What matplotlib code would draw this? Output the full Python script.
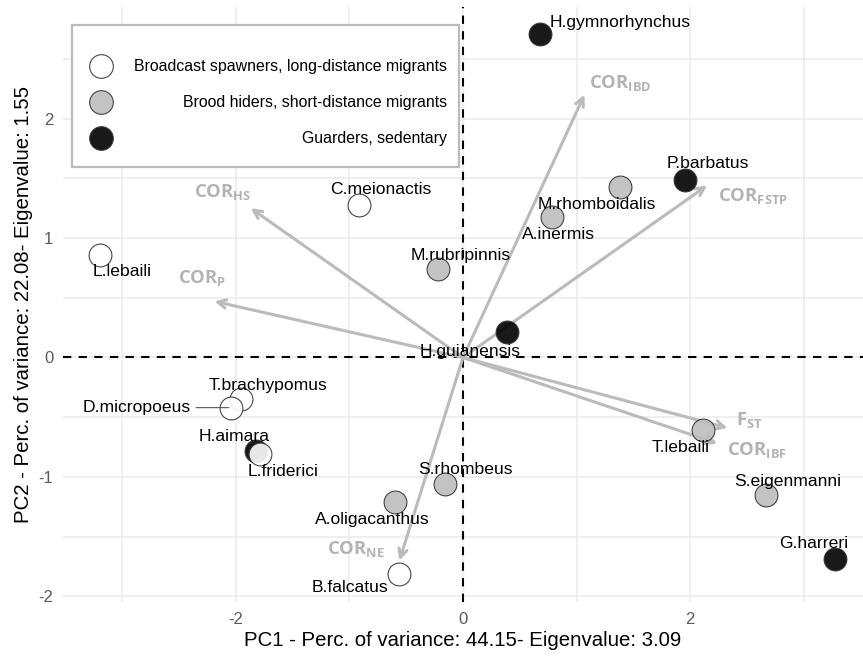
import matplotlib
matplotlib.use("Agg")
import matplotlib.pyplot as plt
from matplotlib.patches import Rectangle

# ---------------- data ----------------
species = ["H.gymnorhynchus", "C.meionactis", "L.lebaili", "M.rubripinnis",
           "M.rhomboidalis", "A.inermis", "P.barbatus", "H.guianensis",
           "T.brachypomus", "D.micropoeus", "H.aimara", "L.friderici",
           "S.rhombeus", "A.oligacanthus", "B.falcatus", "T.lebaili",
           "S.eigenmanni", "G.harreri"]
pc1 = [0.68, -0.92, -3.20, -0.22, 1.38, 0.78, 1.96, 0.39,
       -1.96, -2.04, -1.82, -1.79, -0.16, -0.60, -0.56, 2.11, 2.67, 3.28]
pc2 = [2.71, 1.28, 0.86, 0.74, 1.43, 1.18, 1.49, 0.21,
       -0.35, -0.42, -0.78, -0.81, -1.06, -1.21, -1.81, -0.61, -1.15, -1.69]
group = ["G", "B", "B", "H", "H", "H", "G", "G",
         "B", "B", "G", "B", "H", "H", "B", "H", "H", "G"]

group_names = ["Broadcast spawners, long-distance migrants",
               "Brood hiders, short-distance migrants",
               "Guarders, sedentary"]
group_keys = ["B", "H", "G"]

vec_names = ["IBD", "FSTP", "HS", "P", "NE", "FST", "IBF"]
vec_labels = [r"$\mathregular{COR_{IBD}}$", r"$\mathregular{COR_{FSTP}}$",
              r"$\mathregular{COR_{HS}}$", r"$\mathregular{COR_{P}}$",
              r"$\mathregular{COR_{NE}}$", r"$\mathregular{F_{ST}}$",
              r"$\mathregular{COR_{IBF}}$"]
vec_x = [1.07, 2.15, -1.87, -2.19, -0.56, 2.33, 2.24]
vec_y = [2.20, 1.44, 1.25, 0.47, -1.70, -0.59, -0.72]

xlabel = "PC1 - Perc. of variance: 44.15- Eigenvalue: 3.09"
ylabel = "PC2 - Perc. of variance: 22.08- Eigenvalue: 1.55"
xticks = [-2, 0, 2]
yticks = [-2, -1, 0, 1, 2]

# ---------------- styles / positions ----------------
fill = {"B": "#FFFFFF", "H": "#BDBDBD", "G": "#000000"}
# label offsets in pixels (dx, dy)
lab_off = {
    "H.gymnorhynchus": (80, 11), "C.meionactis": (22, 15), "L.lebaili": (22, -17),
    "M.rubripinnis": (23, 14), "M.rhomboidalis": (-23, -18), "A.inermis": (7, -18),
    "P.barbatus": (22, 16), "H.guianensis": (-37, -19), "T.brachypomus": (27, 14),
    "D.micropoeus": (-95, 0), "H.aimara": (-22, 14), "L.friderici": (23, -17),
    "S.rhombeus": (21, 15), "A.oligacanthus": (-23, -18), "B.falcatus": (-49, -14),
    "T.lebaili": (-22, -17), "S.eigenmanni": (22, 13), "G.harreri": (-22, 16),
}
vec_lab_off = [(36, 12), (46, -10), (-28, 16), (-12, 23), (-44, 11), (22, 8), (40, -7)]

plt.rcParams["font.family"] = ["Liberation Sans", "DejaVu Sans"]

fig = plt.figure(figsize=(8.63, 6.57), dpi=100)
ax = fig.add_axes([0.073, 0.084, 0.927, 0.905])
ax.set_xlim(-3.524, 3.524)
ax.set_ylim(-2.046, 2.933)

for s in ax.spines.values():
    s.set_visible(False)

gc = "#EBEBEB"
for gx in [-3, -2, -1, 0, 1, 2, 3]:
    ax.axvline(gx, color=gc, lw=1.1, zorder=0)
for gy in [-2, -1.5, -1, -0.5, 0, 0.5, 1, 1.5, 2, 2.5]:
    ax.axhline(gy, color=gc, lw=1.1, zorder=0)

ax.axhline(0, color="black", lw=1.5, ls=(0, (4, 3.5)), zorder=1)
ax.axvline(0, color="black", lw=1.5, ls=(0, (4, 3.5)), zorder=1)

ax.set_xticks(xticks)
ax.set_yticks(yticks)
ax.set_xticklabels([str(v) for v in xticks])
ax.set_yticklabels([str(v) for v in yticks])
ax.tick_params(length=0, labelsize=12, labelcolor="#5A5A5A", pad=7)
ax.set_xlabel(xlabel, fontsize=14.7, labelpad=3)
ax.set_ylabel(ylabel, fontsize=14.7, labelpad=4)

arrow_col = "#BBBBBB"
for vx, vy, lab, off in zip(vec_x, vec_y, vec_labels, vec_lab_off):
    ax.annotate("", xy=(vx, vy), xytext=(0, 0),
                arrowprops=dict(arrowstyle="->,head_length=0.6,head_width=0.3",
                                color=arrow_col, lw=2.2, shrinkA=0, shrinkB=0),
                zorder=2)
    ax.annotate(lab, xy=(vx, vy), xytext=off, textcoords="offset pixels",
                ha="center", va="center", fontsize=13.3, color="#B3B3B3",
                family="Open Sans", fontweight="bold", zorder=2)

for name, x, y, g in zip(species, pc1, pc2, group):
    ax.scatter([x], [y], s=270, c=fill[g], edgecolors="#333333",
               linewidths=0.8, alpha=0.9, zorder=3)

for name, x, y in zip(species, pc1, pc2):
    dx, dy = lab_off[name]
    if name == "D.micropoeus":
        ax.annotate(name, xy=(x, y), xytext=(dx, dy), textcoords="offset pixels",
                    ha="center", va="center", fontsize=12.6, color="black", zorder=4,
                    arrowprops=dict(arrowstyle="-", color="#555555", lw=0.8,
                                    shrinkA=2, shrinkB=2))
    else:
        ax.annotate(name, xy=(x, y), xytext=(dx, dy), textcoords="offset pixels",
                    ha="center", va="center", fontsize=12.6, color="black", zorder=4)

# legend (manual, right-aligned labels)
tr = ax.transAxes
box = Rectangle((0.011, 0.731), 0.484, 0.239, transform=tr, fill=True,
                facecolor="white", edgecolor="#BBBBBB", lw=1.6, zorder=5)
ax.add_patch(box)
leg_y = [0.901, 0.840, 0.780]
for k, nm, ly in zip(group_keys, group_names, leg_y):
    ax.scatter([0.048], [ly], s=290, c=fill[k], edgecolors="#333333",
               linewidths=0.8, alpha=0.9, transform=tr, zorder=6, clip_on=False)
    ax.text(0.480, ly, nm, transform=tr, ha="right", va="center",
            fontsize=11.4, color="black", zorder=6)

fig.savefig("out.png", dpi=100)
